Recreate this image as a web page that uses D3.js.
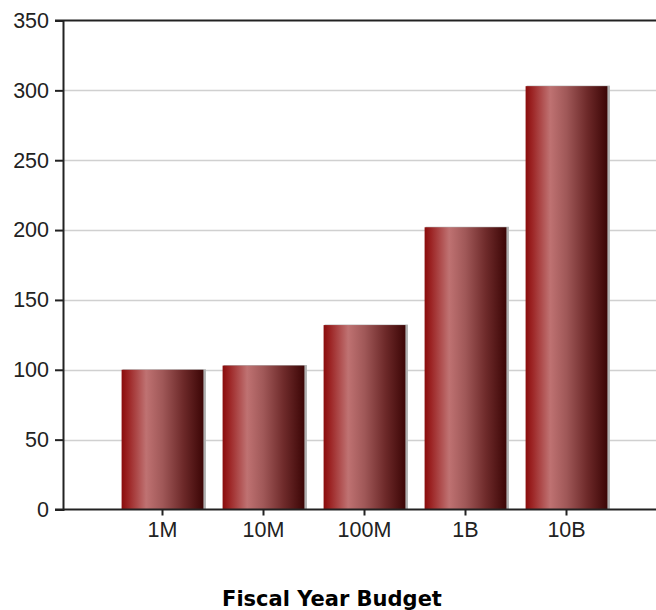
<!DOCTYPE html>
<html>
<head>
<meta charset="utf-8">
<script src="https://cdn.jsdelivr.net/npm/d3@7/dist/d3.min.js"></script>
<style>
  html, body { margin: 0; padding: 0; background: #fff; }
  svg { display: block; }
</style>
</head>
<body>
<script>
const categories = ["1M", "10M", "100M", "1B", "10B"];
const values = [100, 103, 132, 202, 303];
const yTicks = [0, 50, 100, 150, 200, 250, 300, 350];
const title = "Fiscal Year Budget";

const W = 656, H = 610;
const svg = d3.select("body").append("svg").attr("width", W).attr("height", H);

const pLeft = 63, pRight = 656, pTop = 20.5, pBottom = 509.5;

const y = d3.scaleLinear().domain([0, 350]).range([pBottom, pTop]);
const x = d3.scaleBand().domain(categories).range([112, 617]).paddingInner(0.19).paddingOuter(0.095);

const defs = svg.append("defs");
const grad = defs.append("linearGradient").attr("id", "barGrad")
  .attr("x1", "0%").attr("x2", "100%").attr("y1", "0%").attr("y2", "0%");
[
  [0, "#8a0c0c"],
  [0.08, "#9c2424"],
  [0.3, "#bf7272"],
  [0.5, "#a05858"],
  [0.75, "#6e2a2a"],
  [1, "#3c0606"]
].forEach(([o, c]) => grad.append("stop").attr("offset", o).attr("stop-color", c));

// grid lines
svg.append("g").selectAll("line").data(yTicks.filter(d => d > 0 && d < 350)).join("line")
  .attr("x1", pLeft).attr("x2", pRight)
  .attr("y1", d => Math.round(y(d)) + 0.5).attr("y2", d => Math.round(y(d)) + 0.5)
  .attr("stroke", "#d0d0d0").attr("stroke-width", 1.5);

// bar shadows
svg.append("g").selectAll("rect").data(values).join("rect")
  .attr("x", (d, i) => x(categories[i]) + 1)
  .attr("y", d => y(d) - 0.5)
  .attr("width", x.bandwidth() + 1.5)
  .attr("height", d => pBottom - y(d))
  .attr("fill", "#b0b0b0");

// bars
svg.append("g").selectAll("rect").data(values).join("rect")
  .attr("x", (d, i) => x(categories[i]))
  .attr("y", d => y(d))
  .attr("width", x.bandwidth())
  .attr("height", d => pBottom - y(d))
  .attr("fill", "url(#barGrad)");

// y axis
const yAxis = d3.axisLeft(y).tickValues(yTicks).tickSize(8).tickPadding(6);
const gy = svg.append("g").attr("transform", `translate(${pLeft},0)`).call(yAxis);
gy.select(".domain").attr("stroke", "#222").attr("stroke-width", 2);
gy.selectAll(".tick line").attr("stroke", "#222").attr("stroke-width", 2);
gy.selectAll(".tick text").attr("font-family", "Liberation Sans, Arial, sans-serif")
  .attr("font-size", 21.5).attr("fill", "#222");

// top line
svg.append("line").attr("x1", pLeft - 8).attr("x2", pRight).attr("y1", pTop).attr("y2", pTop)
  .attr("stroke", "#222").attr("stroke-width", 2);

// x axis
const xAxis = d3.axisBottom(x).tickSize(6).tickPadding(6).tickSizeOuter(0);
const gx = svg.append("g").attr("transform", `translate(0,${pBottom})`).call(xAxis);
gx.select(".domain").remove();
svg.append("line").attr("x1", pLeft - 8).attr("x2", pRight).attr("y1", pBottom).attr("y2", pBottom)
  .attr("stroke", "#222").attr("stroke-width", 2);
gx.selectAll(".tick line").attr("stroke", "#222").attr("stroke-width", 2);
gx.selectAll(".tick text").attr("font-family", "Liberation Sans, Arial, sans-serif")
  .attr("font-size", 21.5).attr("fill", "#222");

// title
svg.append("text").attr("x", 332).attr("y", 606)
  .attr("text-anchor", "middle")
  .attr("font-family", "DejaVu Sans, Verdana, sans-serif")
  .attr("font-weight", "bold").attr("font-size", 21).attr("fill", "#000")
  .text(title);
</script>
</body>
</html>
